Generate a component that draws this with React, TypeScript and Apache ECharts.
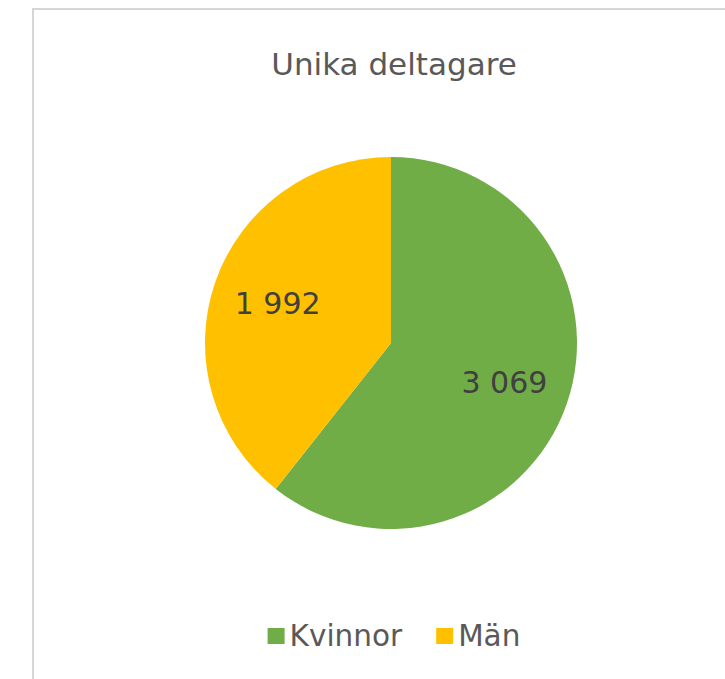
import React, { useEffect, useRef } from "react";
import * as echarts from "echarts";

const title = "Unika deltagare";
const categories = ["Kvinnor", "Män"];
const values = [3069, 1992];
const colors = ["#70AD47", "#FFC000"];

const fmt = (v: number) => String(v).replace(/\B(?=(\d{3})+(?!\d))/g, " ");

export default function App() {
  const ref = useRef<HTMLDivElement>(null);
  useEffect(() => {
    const chart = echarts.init(ref.current!, null, { renderer: "svg" });
    const data = categories.map((name, i) => ({
      name,
      value: values[i],
      itemStyle: { color: colors[i] },
    }));
    const labelData = categories.map((name, i) => ({ name, value: values[i] }));
    const font = "DejaVu Sans, Verdana, sans-serif";
    chart.setOption({
      animation: false,
      backgroundColor: "#ffffff",
      graphic: [
        {
          type: "rect",
          z: -10,
          shape: { x: 33, y: 9, width: 760, height: 720 },
          style: { fill: "#ffffff", stroke: "#d6d6d6", lineWidth: 2 },
        },
      ],
      title: {
        text: title,
        left: "center",
        top: 43,
        textStyle: { fontFamily: font, fontSize: 31, fontWeight: "normal", color: "#595959" },
      },
      legend: {
        left: "center",
        top: 616,
        icon: "rect",
        itemWidth: 17,
        itemHeight: 16,
        itemGap: 34,
        data: categories.map((name, i) => ({ name, itemStyle: { color: colors[i] } })),
        textStyle: { fontFamily: font, fontSize: 29.5, color: "#595959" },
      },
      series: [
        {
          type: "pie",
          center: [391, 343],
          radius: 186,
          startAngle: 90,
          clockwise: true,
          silent: true,
          label: { show: false },
          labelLine: { show: false },
          data,
        },
        {
          type: "pie",
          center: [391, 343],
          radius: [48, 186],
          startAngle: 90,
          clockwise: true,
          silent: true,
          itemStyle: { color: "rgba(0,0,0,0)" },
          label: {
            show: true,
            position: "inside",
            formatter: (p: any) => fmt(p.value),
            fontFamily: font,
            fontSize: 30,
            color: "#404040",
          },
          labelLine: { show: false },
          data: labelData,
        },
      ],
    });
    return () => chart.dispose();
  }, []);
  return (
    <div
      style={{
        position: "fixed",
        left: 0,
        top: 0,
        width: 725,
        height: 679,
        overflow: "hidden",
        background: "#ffffff",
      }}
    >
      <div ref={ref} style={{ position: "absolute", left: 0, top: 0, width: 788, height: 679 }} />
    </div>
  );
}
